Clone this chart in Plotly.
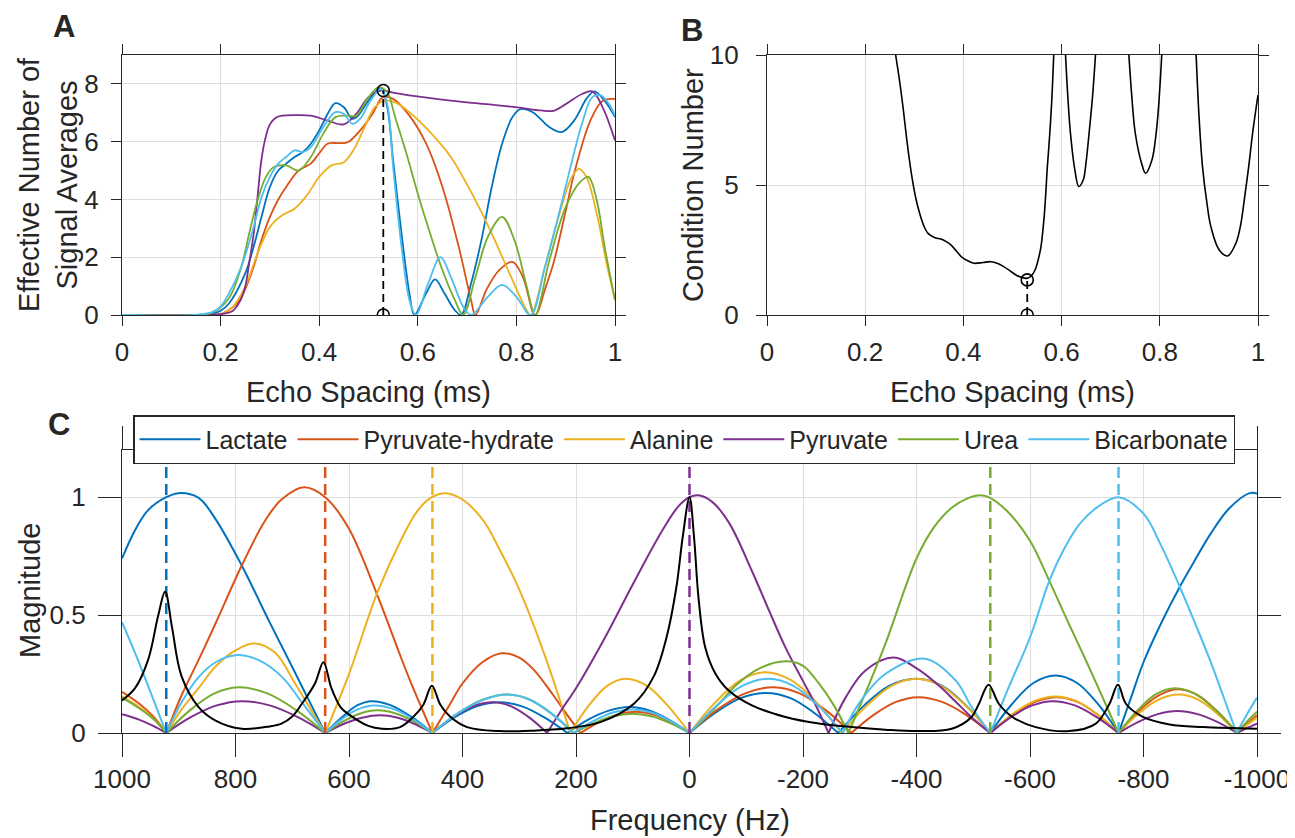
import plotly.graph_objects as go

W, H = 1295, 838
OFF = 8  # the page body margin that sits in front of the figure
FONT = "Liberation Sans, Arial, sans-serif"
INK = "#262626"
GRID = "#dedede"

names = ["Lactate", "Pyruvate-hydrate", "Alanine", "Pyruvate", "Urea", "Bicarbonate"]
colors = ["#0072BD", "#D95319", "#EDB120", "#7E2F8E", "#77AC30", "#4DBEEE"]

# ---------------- panel A: effective NSA vs echo spacing (ms)
lac_a_x = [0, 0.15, 0.183, 0.2, 0.217, 0.25, 0.267, 0.283, 0.3, 0.317, 0.333, 0.35, 0.367, 0.383, 0.4, 0.417,
           0.433, 0.45, 0.467, 0.479, 0.5, 0.525, 0.538, 0.55, 0.567, 0.583, 0.593, 0.617, 0.635, 0.654, 0.675,
           0.688, 0.708, 0.729, 0.75, 0.771, 0.792, 0.808, 0.833, 0.867, 0.892, 0.917, 0.942, 0.958, 0.979, 1.0]
lac_a_y = [0, 0, 0.05, 0.15, 0.4, 1.44, 2.36, 3.4, 4.43, 5.0, 5.24, 5.47, 5.64, 5.93, 6.39, 6.96,
           7.33, 7.19, 6.79, 6.9, 7.42, 7.86, 7.2, 5.35, 2.82, 0.75, 0, 0.75, 1.23, 0.75, 0.17,
           0, 1.09, 2.59, 4.43, 5.93, 6.85, 7.13, 7.02, 6.5, 6.33, 6.73, 7.48, 7.74, 7.42, 6.85]

org_a_x = [0, 0.15, 0.2, 0.233, 0.25, 0.267, 0.283, 0.3, 0.317, 0.333, 0.358, 0.383, 0.4, 0.417, 0.44, 0.458,
           0.483, 0.508, 0.529, 0.55, 0.583, 0.617, 0.65, 0.683, 0.708, 0.717, 0.74, 0.765, 0.792, 0.813, 0.838,
           0.86, 0.875, 0.9, 0.917, 0.95, 0.975, 1.0]
org_a_y = [0, 0, 0.03, 0.4, 0.9, 1.67, 2.6, 3.4, 4.0, 4.43, 5.0, 5.24, 5.6, 5.93, 5.95, 5.98,
           6.39, 6.96, 7.54, 7.48, 6.9, 5.93, 4.43, 2.36, 0.52, 0, 0.9, 1.55, 1.84, 1.32, 0,
           1.0, 1.78, 3.6, 4.89, 6.73, 7.42, 7.48]

yel_a_x = [0, 0.15, 0.2, 0.225, 0.25, 0.275, 0.3, 0.325, 0.35, 0.375, 0.4, 0.425, 0.45, 0.471, 0.492, 0.5125,
           0.533, 0.554, 0.583, 0.625, 0.667, 0.708, 0.75, 0.792, 0.817, 0.829, 0.858, 0.8875, 0.9125, 0.927,
           0.942, 0.963, 0.983, 1.0]
yel_a_y = [0, 0, 0.03, 0.29, 0.98, 2.13, 3.05, 3.45, 3.68, 4.14, 4.78, 5.18, 5.29, 5.75, 6.5, 7.19,
           7.42, 7.36, 7.02, 6.33, 5.47, 4.26, 2.82, 1.21, 0.29, 0, 1.67, 3.51, 4.78, 5.06,
           4.78, 3.51, 1.78, 0.52]

pyr_a_x = [0, 0.15, 0.2, 0.225, 0.24, 0.25, 0.258, 0.267, 0.275, 0.283, 0.292, 0.3, 0.312, 0.325, 0.35, 0.383,
           0.417, 0.45, 0.475, 0.5, 0.525, 0.55, 0.583, 0.667, 0.75, 0.802, 0.85, 0.875, 0.9, 0.933, 0.954,
           0.975, 1.0]
pyr_a_y = [0, 0, 0.03, 0.15, 0.5, 0.98, 1.8, 2.8, 4.1, 5.4, 6.2, 6.6, 6.83, 6.9, 6.92, 6.9,
           6.73, 6.6, 6.96, 7.54, 7.77, 7.7, 7.6, 7.42, 7.28, 7.19, 7.08, 7.07, 7.3, 7.65, 7.74,
           7.19, 6.04]

grn_a_x = [0, 0.15, 0.183, 0.217, 0.242, 0.258, 0.275, 0.292, 0.308, 0.333, 0.358, 0.383, 0.408, 0.433, 0.458,
           0.475, 0.5, 0.521, 0.538, 0.554, 0.575, 0.6, 0.625, 0.65, 0.675, 0.692, 0.717, 0.742, 0.771, 0.796,
           0.821, 0.838, 0.867, 0.9, 0.929, 0.946, 0.963, 0.979, 1.0]
grn_a_y = [0, 0, 0.08, 0.58, 1.67, 2.82, 3.97, 4.78, 5.12, 5.18, 5.0, 5.47, 6.27, 6.85, 6.9,
           6.9, 7.54, 7.88, 7.71, 6.85, 5.7, 4.2, 2.82, 1.55, 0.52, 0, 1.32, 2.7, 3.4, 2.59,
           0.98, 0, 1.9, 3.74, 4.6, 4.78, 3.97, 2.36, 0.52]

bic_a_x = [0, 0.15, 0.183, 0.2, 0.217, 0.242, 0.267, 0.283, 0.3, 0.317, 0.333, 0.35, 0.367, 0.383, 0.4, 0.417,
           0.433, 0.45, 0.467, 0.483, 0.504, 0.525, 0.538, 0.55, 0.567, 0.583, 0.596, 0.621, 0.646, 0.667,
           0.692, 0.708, 0.742, 0.771, 0.8, 0.829, 0.858, 0.883, 0.908, 0.933, 0.954, 0.971, 0.988, 1.0]
bic_a_y = [0, 0, 0.1, 0.3, 0.75, 1.67, 3.05, 4.08, 4.78, 5.24, 5.47, 5.7, 5.64, 5.81, 6.27, 6.73,
           7.02, 6.96, 6.62, 6.79, 7.42, 7.83, 7.3, 5.12, 2.36, 0.52, 0, 1.09, 2.0, 1.32,
           0.29, 0, 0.63, 1.04, 0.63, 0, 1.67, 3.28, 5.0, 6.62, 7.54, 7.6, 7.3, 6.9]

sel_a_x = [0.53, 0.53]
sel_a_y = [0, 7.77]

# ---------------- panel B: condition number (segments leave through the top at 10)
cond_x = [0.262, 0.27, 0.277, 0.285, 0.294, 0.303, 0.311, 0.32, 0.328, 0.341, 0.354, 0.365, 0.375, 0.386, 0.396,
          0.41, 0.422, 0.44, 0.456, 0.47, 0.482, 0.495, 0.507, 0.518, 0.529, 0.538, 0.546, 0.552, 0.558, 0.565,
          0.571, 0.576, 0.58, 0.584, None,
          0.608, 0.613, 0.618, 0.627, 0.635, 0.644, 0.65, 0.656, 0.663, 0.669, None,
          0.737, 0.743, 0.75, 0.763, 0.771, 0.784, 0.792, 0.797, 0.804, None,
          0.874, 0.88, 0.887, 0.896, 0.904, 0.921, 0.938, 0.955, 0.965, 0.972, 0.981, 0.989, 1.0]
cond_y = [10, 9.0, 8.0, 6.7, 5.45, 4.5, 3.9, 3.4, 3.14, 2.98, 2.92, 2.82, 2.69, 2.45, 2.24,
          2.08, 1.99, 2.02, 2.05, 1.98, 1.86, 1.7, 1.54, 1.45, 1.41, 1.5, 1.73, 2.1, 2.63, 3.9,
          5.7, 7.0, 8.27, 10, None,
          10, 8.3, 7.0, 5.58, 4.94, 5.19, 5.9, 7.0, 8.4, 10, None,
          10, 8.4, 7.0, 5.83, 5.45, 5.96, 6.9, 7.88, 10, None,
          10, 7.6, 5.7, 4.3, 3.4, 2.5, 2.27, 2.76, 3.5, 4.42, 5.7, 6.99, 8.46]

sel_b_x = [0.53, 0.53]
sel_b_y = [0, 1.35]

# ---------------- panel C: frequency response magnitude (lobes split at their zeros)
met_freq = [922, 642, 453, 0, -530, -756]

lac_c_f = [1000, 977, 954, 922, 900, 865, 836, 789, 740, 700, 670, 642, None,
           642, 612, 585, 560, 527, 490, 453, None,
           453, 415, 375, 335, 295, 255, 215, None,
           215, 180, 142, 105, 70, 35, 0, None,
           0, -45, -90, -135, -178, -220, -262, None,
           -262, -307, -352, -400, -445, -488, -530, None,
           -530, -568, -606, -645, -683, -720, -756, None,
           -756, -778, -800, -830, -864, -890, -917, -950, -987, -1000]
lac_c_m = [0.74, 0.86, 0.945, 1.0, 1.017, 0.997, 0.91, 0.71, 0.47, 0.28, 0.135, 0, None,
           0, 0.068, 0.118, 0.135, 0.118, 0.068, 0, None,
           0, 0.065, 0.113, 0.13, 0.113, 0.065, 0, None,
           0, 0.055, 0.095, 0.11, 0.095, 0.055, 0, None,
           0, 0.085, 0.148, 0.17, 0.148, 0.085, 0, None,
           0, 0.115, 0.2, 0.23, 0.2, 0.115, 0, None,
           0, 0.122, 0.212, 0.244, 0.212, 0.122, 0, None,
           0, 0.15, 0.3, 0.46, 0.62, 0.73, 0.84, 0.95, 1.017, 1.015]

org_c_f = [1000, 970, 945, 922, None,
           922, 895, 865, 836, 789, 748, 719, 679, 642, 601, 551, 510, 492, 453, None,
           453, 425, 400, 365, 331, 300, 275, 240, 215, 192, None,
           192, 160, 128, 95, 63, 32, 0, None,
           0, -48, -98, -148, -194, -240, -285, None,
           -285, -324, -364, -403, -445, -488, -530, None,
           -530, -569, -609, -648, -684, -720, -756, None,
           -756, -791, -827, -862, -896, -930, -965, None,
           -965, -983, -1000]
org_c_m = [0.175, 0.125, 0.07, 0, None,
           0, 0.16, 0.31, 0.46, 0.71, 0.9, 0.99, 1.042, 1.0, 0.87, 0.59, 0.33, 0.22, 0, None,
           0, 0.11, 0.21, 0.3, 0.338, 0.32, 0.27, 0.16, 0.075, 0, None,
           0, 0.045, 0.078, 0.09, 0.078, 0.045, 0, None,
           0, 0.097, 0.168, 0.194, 0.168, 0.097, 0, None,
           0, 0.076, 0.132, 0.152, 0.132, 0.076, 0, None,
           0, 0.076, 0.132, 0.152, 0.132, 0.076, 0, None,
           0, 0.092, 0.16, 0.185, 0.16, 0.092, 0, None,
           0, 0.04, 0.075]

yel_c_f = [1000, 970, 945, 922, None,
           922, 895, 865, 836, 800, 766, 730, 695, 660, 642, None,
           642, 600, 551, 510, 480, 454, 430, 400, 363, 334, 304, 275, 245, 210, None,
           210, 178, 145, 113, 75, 38, 0, None,
           0, -45, -90, -134, -179, -224, -268, None,
           -268, -312, -356, -400, -443, -487, -530, None,
           -530, -568, -607, -645, -682, -719, -756, None,
           -756, -791, -827, -862, -896, -930, -965, None,
           -965, -983, -1000]
yel_c_m = [0.155, 0.11, 0.062, 0, None,
           0, 0.1, 0.19, 0.28, 0.35, 0.38, 0.34, 0.21, 0.07, 0, None,
           0, 0.25, 0.59, 0.81, 0.94, 1.0, 1.017, 0.99, 0.9, 0.775, 0.63, 0.46, 0.26, 0, None,
           0, 0.115, 0.2, 0.23, 0.2, 0.115, 0, None,
           0, 0.129, 0.224, 0.258, 0.224, 0.129, 0, None,
           0, 0.115, 0.2, 0.23, 0.2, 0.115, 0, None,
           0, 0.078, 0.135, 0.155, 0.135, 0.078, 0, None,
           0, 0.082, 0.142, 0.163, 0.142, 0.082, 0, None,
           0, 0.035, 0.065]

pyr_c_f = [1000, 970, 945, 922, None,
           922, 878, 833, 789, 740, 691, 642, None,
           642, 610, 577, 545, 514, 484, 453, None,
           453, 418, 382, 345, 314, 282, 251, None,
           251, 225, 200, 150, 100, 50, 20, 0, -16, -40, -70, -110, -140, -169, -200, -222, -245, None,
           -245, -275, -310, -360, -403, -440, -470, -500, -530, None,
           -530, -567, -604, -640, -679, -717, -756, None,
           -756, -791, -825, -860, -895, -930, -965, None,
           -965, -983, -1000]
pyr_c_m = [0.08, 0.057, 0.03, 0, None,
           0, 0.068, 0.117, 0.135, 0.117, 0.068, 0, None,
           0, 0.038, 0.065, 0.075, 0.065, 0.038, 0, None,
           0, 0.065, 0.113, 0.13, 0.113, 0.065, 0, None,
           0, 0.1, 0.19, 0.4, 0.63, 0.85, 0.96, 1.0, 1.008, 0.98, 0.89, 0.687, 0.52, 0.363, 0.22, 0.12, 0, None,
           0, 0.15, 0.265, 0.32, 0.27, 0.2, 0.13, 0.06, 0, None,
           0, 0.068, 0.117, 0.135, 0.117, 0.068, 0, None,
           0, 0.047, 0.08, 0.093, 0.08, 0.047, 0, None,
           0, 0.022, 0.04]

grn_c_f = [1000, 970, 945, 922, None,
           922, 880, 837, 795, 744, 693, 642, None,
           642, 611, 580, 550, 518, 485, 453, None,
           453, 409, 364, 320, 281, 243, 204, None,
           204, 169, 135, 100, 67, 33, 0, None,
           0, -52, -81, -120, -169, -200, -228, -255, -280, None,
           -280, -310, -345, -400, -430, -462, -490, -513, -527, -560, -600, -634, -669, -700, -730, -756, None,
           -756, -789, -822, -855, -892, -928, -965, None,
           -965, -983, -1000]
grn_c_m = [0.15, 0.105, 0.06, 0, None,
           0, 0.097, 0.168, 0.194, 0.168, 0.097, 0, None,
           0, 0.048, 0.083, 0.096, 0.083, 0.048, 0, None,
           0, 0.082, 0.141, 0.163, 0.141, 0.082, 0, None,
           0, 0.041, 0.071, 0.082, 0.071, 0.041, 0, None,
           0, 0.124, 0.2, 0.27, 0.304, 0.285, 0.21, 0.115, 0, None,
           0, 0.17, 0.377, 0.74, 0.87, 0.955, 0.995, 1.008, 1.0, 0.94, 0.815, 0.645, 0.46, 0.3, 0.14, 0, None,
           0, 0.095, 0.165, 0.19, 0.165, 0.095, 0, None,
           0, 0.05, 0.09]

bic_c_f = [1000, 977, 954, 922, None,
           922, 895, 865, 835, 800, 760, 719, 683, 642, None,
           642, 613, 584, 555, 521, 487, 453, None,
           453, 409, 364, 320, 281, 243, 205, None,
           205, 170, 135, 100, 67, 33, 0, None,
           0, -47, -93, -140, -183, -227, -270, None,
           -270, -300, -345, -415, -470, -497, -530, None,
           -530, -560, -600, -634, -660, -687, -720, -756, -800, -830, -864, -890, -917, -940, -964, None,
           -964, -985, -1000]
bic_c_m = [0.47, 0.34, 0.2, 0, None,
           0, 0.13, 0.237, 0.3, 0.33, 0.31, 0.24, 0.13, 0, None,
           0, 0.058, 0.101, 0.117, 0.101, 0.058, 0, None,
           0, 0.082, 0.141, 0.163, 0.141, 0.082, 0, None,
           0, 0.05, 0.087, 0.1, 0.087, 0.05, 0, None,
           0, 0.115, 0.2, 0.23, 0.2, 0.115, 0, None,
           0, 0.13, 0.25, 0.315, 0.22, 0.11, 0, None,
           0, 0.18, 0.405, 0.645, 0.78, 0.885, 0.96, 1.0, 0.93, 0.8, 0.62, 0.47, 0.31, 0.16, 0, None,
           0, 0.09, 0.15]

spec_f = [1000, 977, 954, 936, 924, 912, 895, 865, 836, 789, 740, 719, 700, 683, 660, 645, 631, 615, 601,
          566, 542, 510, 486, 469, 454, 439, 422, 392, 334, 275, 216, 157, 98, 63, 40, 23, 12, 0,
          -8, -16, -28, -46, -69, -110, -169, -228, -286, -345, -404, -462, -497, -510, -527, -545,
          -569, -610, -669, -716, -740, -755, -769, -799, -846, -905, -1000]
spec_m = [0.138, 0.19, 0.31, 0.5, 0.6, 0.45, 0.24, 0.11, 0.054, 0.018, 0.028, 0.04, 0.07, 0.124, 0.21, 0.3,
          0.19, 0.11, 0.08, 0.03, 0.018, 0.025, 0.07, 0.12, 0.2, 0.12, 0.07, 0.025, 0.008, 0.01, 0.02,
          0.046, 0.124, 0.24, 0.41, 0.62, 0.83, 1.0, 0.83, 0.57, 0.36, 0.25, 0.18, 0.117, 0.068, 0.04,
          0.025, 0.014, 0.008, 0.018, 0.068, 0.124, 0.205, 0.124, 0.068, 0.025, 0.008, 0.04, 0.124,
          0.205, 0.124, 0.068, 0.036, 0.025, 0.018]

freq_ticks = [1000, 800, 600, 400, 200, 0, -200, -400, -600, -800, -1000]
freq_labels = [str(v) for v in freq_ticks]

a_x = [lac_a_x, org_a_x, yel_a_x, pyr_a_x, grn_a_x, bic_a_x]
a_y = [lac_a_y, org_a_y, yel_a_y, pyr_a_y, grn_a_y, bic_a_y]
c_f = [lac_c_f, org_c_f, yel_c_f, pyr_c_f, grn_c_f, bic_c_f]
c_m = [lac_c_m, org_c_m, yel_c_m, pyr_c_m, grn_c_m, bic_c_m]


def px(x):
    return (x - OFF) / W


def py(y):
    return 1 - (y - OFF) / H


fig = go.Figure()

# A
for i in range(6):
    fig.add_trace(go.Scatter(x=a_x[i], y=a_y[i], mode="lines", showlegend=False, xaxis="x", yaxis="y",
                             line=dict(color=colors[i], width=1.8, shape="spline")))
fig.add_trace(go.Scatter(x=sel_a_x, y=sel_a_y, mode="lines+markers", showlegend=False, xaxis="x", yaxis="y",
                         line=dict(color="black", width=1.8, dash="8px,5px"),
                         marker=dict(symbol="circle-open", size=12, color="black", line=dict(width=1.6))))

# B
fig.add_trace(go.Scatter(x=cond_x, y=cond_y, mode="lines", showlegend=False, xaxis="x2", yaxis="y2",
                         connectgaps=False, line=dict(color="black", width=1.6, shape="spline")))
fig.add_trace(go.Scatter(x=sel_b_x, y=sel_b_y, mode="lines+markers", showlegend=False, xaxis="x2", yaxis="y2",
                         line=dict(color="black", width=1.8, dash="8px,5px"),
                         marker=dict(symbol="circle-open", size=12, color="black", line=dict(width=1.6))))

# C
for i in range(6):
    fig.add_trace(go.Scatter(x=c_f[i], y=c_m[i], mode="lines", name=names[i], xaxis="x3", yaxis="y3",
                             connectgaps=False, line=dict(color=colors[i], width=2, shape="spline")))
for i in range(6):
    fig.add_trace(go.Scatter(x=[met_freq[i], met_freq[i]], y=[0, 1.2], mode="lines", showlegend=False,
                             xaxis="x3", yaxis="y3", line=dict(color=colors[i], width=2.5, dash="11px,6px")))
fig.add_trace(go.Scatter(x=spec_f, y=spec_m, mode="lines", showlegend=False, xaxis="x3", yaxis="y3",
                         line=dict(color="black", width=2, shape="spline")))


def axis(domain, rng, ticklen, standoff, **kw):
    return dict(domain=domain, range=rng, automargin=False, showline=True, linecolor=INK, linewidth=1.2,
                mirror="ticks", ticks="outside", ticklen=ticklen, tickwidth=1.2, tickcolor=INK,
                showgrid=True, gridcolor=GRID, gridwidth=1, zeroline=False, ticklabelstandoff=standoff,
                tickfont=dict(family=FONT, size=26, color=INK), **kw)


fig.update_layout(
    template="none",
    width=W, height=H, autosize=False,
    margin=dict(l=0, r=0, t=0, b=0, pad=0),
    paper_bgcolor="white", plot_bgcolor="white",
    xaxis=axis([px(122), px(615)], [0, 1], 10, 4, anchor="y", dtick=0.2),
    yaxis=axis([py(315), py(55)], [0, 9], 10, 7, anchor="x", tickvals=[0, 2, 4, 6, 8]),
    xaxis2=axis([px(767), px(1258)], [0, 1], 10, 4, anchor="y2", dtick=0.2),
    yaxis2=axis([py(315), py(55)], [0, 10], 10, 12, anchor="x2", tickvals=[0, 5, 10]),
    xaxis3=axis([px(122), px(1257)], [1000, -1000], 23, 0, anchor="y3",
                tickvals=freq_ticks, ticktext=freq_labels),
    yaxis3=axis([py(733), py(450)], [0, 1.2], 23, 7, anchor="x3",
                tickvals=[0, 0.5, 1], ticktext=["0", "0.5", "1"]),
    legend=dict(orientation="h", x=px(133), y=py(415), xanchor="left", yanchor="top",
                bgcolor="white", bordercolor=INK, borderwidth=1.5, itemwidth=61,
                font=dict(family=FONT, size=25, color=INK)),
    font=dict(family=FONT, color=INK),
)

notes = [
    ("<b>A</b>", 64, 27, 0, 31),
    ("<b>B</b>", 692, 31, 0, 31),
    ("<b>C</b>", 59, 424, 0, 31),
    ("Effective Number of<br>Signal Averages", 48, 185, -90, 29),
    ("Condition Number", 693, 185, -90, 29),
    ("Magnitude", 30, 591, -90, 29),
    ("Echo Spacing (ms)", 368, 392, 0, 29),
    ("Echo Spacing (ms)", 1012, 392, 0, 29),
    ("Frequency (Hz)", 690, 820, 0, 29),
]
for text, x0, y0, ang, size in notes:
    fig.add_annotation(text=text, x=px(x0), y=py(y0), xref="paper", yref="paper", showarrow=False,
                       textangle=ang, xanchor="center", yanchor="middle",
                       font=dict(family=FONT, size=size, color=INK))

fig.write_html("out.html")
